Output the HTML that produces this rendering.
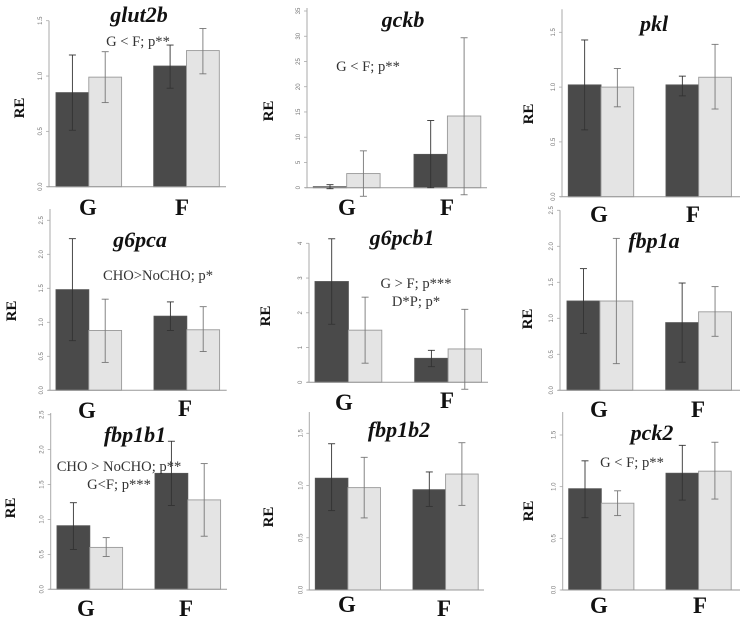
<!DOCTYPE html>
<html lang="en">
<head>
<meta charset="utf-8">
<title>Relative expression of glycolysis and gluconeogenesis genes</title>
<style>
html,body{margin:0;padding:0;background:#fff;width:740px;height:619px;overflow:hidden}
svg{display:block;filter:blur(0.35px)}
text{font-family:"Liberation Serif",serif}
.title{font-size:22px;font-weight:bold;font-style:italic;fill:#111;text-anchor:middle}
.note{font-size:14.6px;fill:#333;text-anchor:middle}
.re{font-size:15px;font-weight:bold;fill:#111;text-anchor:middle}
.cat{font-size:23px;font-weight:bold;fill:#111;text-anchor:middle}
.tick{font-family:"Liberation Sans",sans-serif;font-size:6px;fill:#777;text-anchor:middle}
</style>
</head>
<body>
<svg id="figure" xmlns="http://www.w3.org/2000/svg" width="740" height="619" viewBox="0 0 740 619">
  <g>
    <text class="title" x="139" y="22">glut2b</text>
    <text class="title" x="403" y="27">gckb</text>
    <text class="title" x="654" y="31">pkl</text>
    <text class="title" x="140" y="247">g6pca</text>
    <text class="title" x="402" y="245">g6pcb1</text>
    <text class="title" x="654" y="248">fbp1a</text>
    <text class="title" x="135" y="442">fbp1b1</text>
    <text class="title" x="399" y="437">fbp1b2</text>
    <text class="title" x="652" y="440">pck2</text>
  </g>
  <g>
    <text class="re" transform="translate(24,108) rotate(-90)">RE</text>
    <text class="re" transform="translate(273,111) rotate(-90)">RE</text>
    <text class="re" transform="translate(533,114) rotate(-90)">RE</text>
    <text class="re" transform="translate(16,311) rotate(-90)">RE</text>
    <text class="re" transform="translate(270,316) rotate(-90)">RE</text>
    <text class="re" transform="translate(532,319) rotate(-90)">RE</text>
    <text class="re" transform="translate(15,508) rotate(-90)">RE</text>
    <text class="re" transform="translate(273,517) rotate(-90)">RE</text>
    <text class="re" transform="translate(533,511) rotate(-90)">RE</text>
  </g>
  <g id="panels"></g>
  <g>
    <text class="note" x="138" y="46">G &lt; F; p**</text>
    <text class="note" x="368" y="71">G &lt; F; p**</text>
    <text class="note" x="158" y="280">CHO&gt;NoCHO; p*</text>
    <text class="note" x="416" y="288">G &gt; F; p***</text>
    <text class="note" x="416" y="306">D*P; p*</text>
    <text class="note" x="119" y="471">CHO &gt; NoCHO; p**</text>
    <text class="note" x="119" y="489">G&lt;F; p***</text>
    <text class="note" x="632" y="467">G &lt; F; p**</text>
  </g>
</svg>
<script>
const categories = ['G', 'F'];
const seriesNames = ['dark', 'light'];

const ticksTo15 = ['0.0', '0.5', '1.0', '1.5'];
const ticksTo25 = ['0.0', '0.5', '1.0', '1.5', '2.0', '2.5'];
const ticksTo35 = ['0', '5', '10', '15', '20', '25', '30', '35'];
const ticksTo4 = ['0', '1', '2', '3', '4'];

/* Each array is ordered: G dark, G light, F dark, F light */
const glut2bMeans = [0.85, 0.99, 1.09, 1.23];
const glut2bLow = [0.51, 0.76, 0.89, 1.02];
const glut2bHigh = [1.19, 1.22, 1.28, 1.43];

const gckbMeans = [0.2, 2.8, 6.6, 14.2];
const gckbLow = [-0.2, -1.7, 0, -1.4];
const gckbHigh = [0.6, 7.3, 13.3, 29.7];

const pklMeans = [1.02, 1.0, 1.02, 1.09];
const pklLow = [0.61, 0.82, 0.92, 0.80];
const pklHigh = [1.43, 1.17, 1.10, 1.39];

const g6pcaMeans = [1.48, 0.88, 1.09, 0.89];
const g6pcaLow = [0.73, 0.41, 0.88, 0.57];
const g6pcaHigh = [2.23, 1.34, 1.30, 1.23];

const g6pcb1Means = [2.9, 1.5, 0.69, 0.96];
const g6pcb1Low = [1.67, 0.55, 0.45, -0.2];
const g6pcb1High = [4.13, 2.45, 0.92, 2.1];

const fbp1aMeans = [1.24, 1.24, 0.94, 1.09];
const fbp1aLow = [0.79, 0.37, 0.39, 0.75];
const fbp1aHigh = [1.69, 2.11, 1.49, 1.44];

const fbp1b1Means = [0.91, 0.60, 1.66, 1.28];
const fbp1b1Low = [0.57, 0.47, 1.20, 0.76];
const fbp1b1High = [1.24, 0.74, 2.12, 1.80];

const fbp1b2Means = [1.07, 0.98, 0.96, 1.11];
const fbp1b2Low = [0.76, 0.69, 0.80, 0.81];
const fbp1b2High = [1.40, 1.27, 1.13, 1.41];

const pck2Means = [0.98, 0.84, 1.13, 1.15];
const pck2Low = [0.70, 0.72, 0.87, 0.88];
const pck2High = [1.25, 0.96, 1.40, 1.43];

const NS = 'http://www.w3.org/2000/svg';
const root = document.getElementById('panels');

function make(parent, tag, attrs) {
  const el = document.createElementNS(NS, tag);
  for (const k in attrs) el.setAttribute(k, attrs[k]);
  parent.appendChild(el);
  return el;
}

function drawPanel(gene, means, low, high, ticks, box) {
  const tickMax = parseFloat(ticks[ticks.length - 1]);
  const yScale = v => box.y0 - (v / tickMax) * (box.y0 - box.yMax);
  const xBar = (cat, ser) => (cat === 0 ? box.gx : box.fx) + ser * box.bw;

  const g = make(root, 'g', {});
  
  

  means.forEach((m, i) => {
    const cat = Math.floor(i / 2), ser = i % 2;
    const rect = make(g, 'rect', {
      x: xBar(cat, ser),
      y: Math.min(yScale(m), box.y0),
      width: box.bw,
      height: Math.abs(box.y0 - yScale(m)),
      fill: ser === 0 ? '#4a4a4a' : '#e4e4e4',
      stroke: ser === 0 ? '#555' : '#999',
      'stroke-width': 0.9
    });
    
    
  });

  const axis = make(g, 'line', {
    x1: box.ax, x2: box.ax, y1: box.top === undefined ? yScale(tickMax) : box.top, y2: box.y0,
    stroke: '#aaa', 'stroke-width': 1
  });
  
  

  const base = make(g, 'line', {
    x1: box.ax - 2, x2: box.xEnd, y1: box.y0, y2: box.y0, stroke: '#999', 'stroke-width': 1
  });
  
  

  ticks.forEach(label => {
    const v = parseFloat(label), y = yScale(v);
    const tick = make(g, 'line', { x1: box.ax - 3, x2: box.ax, y1: y, y2: y, stroke: '#aaa', 'stroke-width': 0.8 });
    
    
    const t = make(g, 'text', { class: 'tick', transform: 'translate(' + (box.ax - 7) + ',' + y + ') rotate(-90)' });
    t.textContent = label;
    
    
  });

  means.forEach((m, i) => {
    const cat = Math.floor(i / 2), ser = i % 2;
    const cx = xBar(cat, ser) + box.bw / 2;
    const y1 = yScale(low[i]), y2 = yScale(high[i]);
    const eg = make(g, 'g', { stroke: ser === 0 ? '#333' : '#777', 'stroke-width': 0.9 });
    
    
    make(eg, 'line', { x1: cx, x2: cx, y1: y1, y2: y2 });
    make(eg, 'line', { x1: cx - 3.5, x2: cx + 3.5, y1: y1, y2: y1 });
    make(eg, 'line', { x1: cx - 3.5, x2: cx + 3.5, y1: y2, y2: y2 });
  });

  categories.forEach((c, i) => {
    const t = make(g, 'text', {
      class: 'cat',
      x: i === 0 ? box.gLabelX : box.fLabelX,
      y: i === 0 ? box.gLabelY : box.fLabelY
    });
    t.textContent = c;
    
    
  });
}

drawPanel('glut2b', glut2bMeans, glut2bLow, glut2bHigh, ticksTo15,
  { ax: 49, y0: 186.7, yMax: 20.7, gx: 56, fx: 153.7, bw: 32.8, xEnd: 226, gLabelX: 88, gLabelY: 215, fLabelX: 182, fLabelY: 215 });
drawPanel('gckb', gckbMeans, gckbLow, gckbHigh, ticksTo35,
  { ax: 307, y0: 187.7, yMax: 11, top: 8, gx: 313.3, fx: 414, bw: 33.4, xEnd: 487, gLabelX: 347, gLabelY: 215, fLabelX: 447, fLabelY: 215 });
drawPanel('pkl', pklMeans, pklLow, pklHigh, ticksTo15,
  { ax: 562, y0: 196.7, yMax: 32.3, top: 9.3, gx: 568.3, fx: 666, bw: 32.7, xEnd: 740, gLabelX: 599, gLabelY: 222, fLabelX: 693, fLabelY: 222 });
drawPanel('g6pca', g6pcaMeans, g6pcaLow, g6pcaHigh, ticksTo25,
  { ax: 50, y0: 390.3, yMax: 220.3, top: 209, gx: 56, fx: 154, bw: 32.8, xEnd: 226.7, gLabelX: 87, gLabelY: 418, fLabelX: 185, fLabelY: 416 });
drawPanel('g6pcb1', g6pcb1Means, g6pcb1Low, g6pcb1High, ticksTo4,
  { ax: 309, y0: 382.3, yMax: 243.3, gx: 315, fx: 414.7, bw: 33.4, xEnd: 488, gLabelX: 344, gLabelY: 410, fLabelX: 447, fLabelY: 408 });
drawPanel('fbp1a', fbp1aMeans, fbp1aLow, fbp1aHigh, ticksTo25,
  { ax: 560, y0: 390.3, yMax: 210.3, gx: 567, fx: 665.7, bw: 32.9, xEnd: 740, gLabelX: 599, gLabelY: 417, fLabelX: 698, fLabelY: 417 });
drawPanel('fbp1b1', fbp1b1Means, fbp1b1Low, fbp1b1High, ticksTo25,
  { ax: 50.7, y0: 589.3, yMax: 414.7, top: 413, gx: 57, fx: 155, bw: 32.8, xEnd: 227, gLabelX: 86, gLabelY: 616, fLabelX: 186, fLabelY: 616 });
drawPanel('fbp1b2', fbp1b2Means, fbp1b2Low, fbp1b2High, ticksTo15,
  { ax: 309.3, y0: 590, yMax: 433.3, top: 412, gx: 315.3, fx: 413, bw: 32.6, xEnd: 484, gLabelX: 347, gLabelY: 612, fLabelX: 444, fLabelY: 616 });
drawPanel('pck2', pck2Means, pck2Low, pck2High, ticksTo15,
  { ax: 562.7, y0: 590, yMax: 435, top: 412, gx: 568.7, fx: 666, bw: 32.6, xEnd: 740, gLabelX: 599, gLabelY: 613, fLabelX: 700, fLabelY: 613 });
</script>
</body>
</html>
